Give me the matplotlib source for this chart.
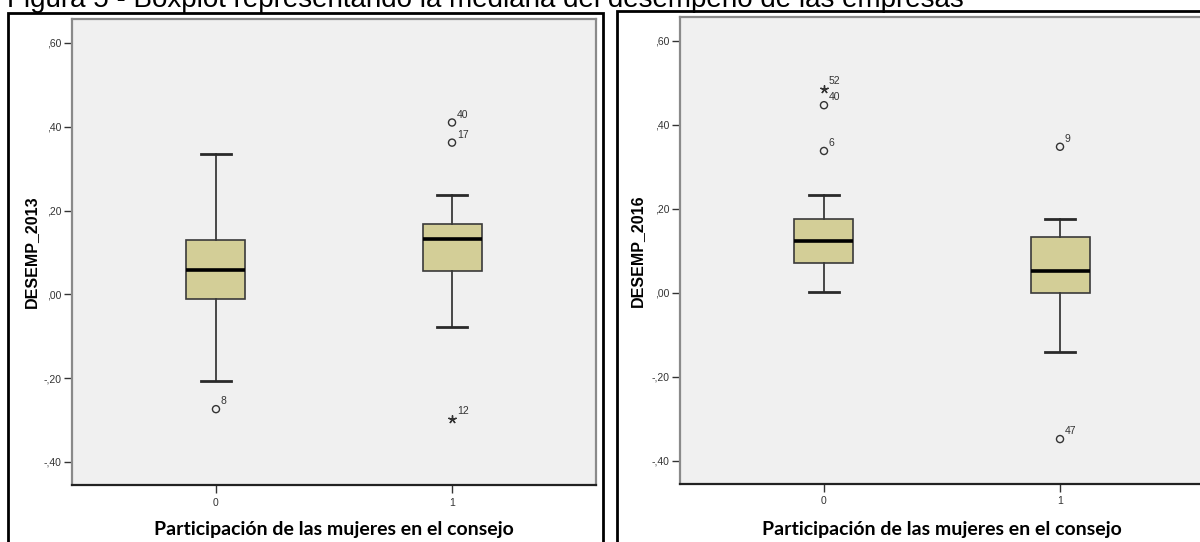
import matplotlib
matplotlib.use("Agg")
import matplotlib.pyplot as plt
from matplotlib.patches import Rectangle

# ---------------- data ----------------
categories = ["0", "1"]
positions = [0, 1]

# DESEMP_2013
q1_2013 = [-0.012, 0.055]
med_2013 = [0.057, 0.131]
q3_2013 = [0.129, 0.169]
whislo_2013 = [-0.207, -0.079]
whishi_2013 = [0.336, 0.238]
out_x_2013 = [0, 1, 1]
out_y_2013 = [-0.274, 0.410, 0.362]
out_lab_2013 = ["8", "40", "17"]
ext_x_2013 = [1]
ext_y_2013 = [-0.298]
ext_lab_2013 = ["12"]

# DESEMP_2016
q1_2016 = [0.071, 0.000]
med_2016 = [0.124, 0.052]
q3_2016 = [0.176, 0.133]
whislo_2016 = [0.002, -0.140]
whishi_2016 = [0.233, 0.176]
out_x_2016 = [0, 0, 1, 1]
out_y_2016 = [0.447, 0.338, 0.348, -0.348]
out_lab_2016 = ["40", "6", "9", "47"]
ext_x_2016 = [0]
ext_y_2016 = [0.486]
ext_lab_2016 = ["52"]

yticks = [-0.4, -0.2, 0.0, 0.2, 0.4, 0.6]
ytick_labels = ["-,40", "-,20", ",00", ",20", ",40", ",60"]

title = "Figura 5 - Boxplot representando la mediana del desempeño de las empresas"
xlabel = "Participación de las mujeres en el consejo"
ylabels = ["DESEMP_2013", "DESEMP_2016"]

# ---------------- figure ----------------
W, H = 1200, 542
fig = plt.figure(figsize=(W / 100, H / 100), dpi=100)
fig.patch.set_facecolor("white")

def fx(px):
    return px / W

def fy(py):
    return 1 - py / H

BOX_FILL = "#d3ce97"
BG = "#f0f0f0"

def draw_panel(rect, q1, med, q3, wlo, whi, ox, oy, olab, ex, ey, elab, ylabel, ylab_x):
    ax = fig.add_axes(rect)
    ax.set_facecolor(BG)
    stats = []
    for i in range(len(categories)):
        stats.append(dict(q1=q1[i], med=med[i], q3=q3[i], whislo=wlo[i], whishi=whi[i], fliers=[]))
    ax.bxp(stats, positions=positions, widths=0.25, patch_artist=True, showfliers=False,
           boxprops=dict(facecolor=BOX_FILL, edgecolor="#3a3a3a", linewidth=1.2),
           medianprops=dict(color="black", linewidth=2.6, solid_capstyle="butt"),
           whiskerprops=dict(color="#3a3a3a", linewidth=1.3),
           capprops=dict(color="#2a2a2a", linewidth=2.0),
           capwidths=0.125)
    ax.scatter(ox, oy, s=26, facecolors="none", edgecolors="#333333", linewidths=1.0, zorder=5)
    ax.scatter(ex, ey, s=30, marker=(5, 2, 0), color="#333333", linewidths=1.0, zorder=5)
    for x, y, t in zip(ox, oy, olab):
        ax.annotate(t, (x, y), xytext=(3.5, 3.5), textcoords="offset points",
                    fontsize=7.5, color="#333333", family="Liberation Sans")
    for x, y, t in zip(ex, ey, elab):
        ax.annotate(t, (x, y), xytext=(3.5, 3.5), textcoords="offset points",
                    fontsize=7.5, color="#333333", family="Liberation Sans")
    ax.set_xlim(-0.61, 1.61)
    ax.set_ylim(-0.455, 0.657)
    ax.set_xticks(positions)
    ax.set_xticklabels(categories, fontsize=7.5, family="Liberation Sans", color="#333333")
    ax.set_yticks(yticks)
    ax.set_yticklabels(ytick_labels, fontsize=7.5, family="Liberation Sans", color="#333333")
    ax.tick_params(axis="both", length=6, width=1.0, color="#333333", pad=1.5)
    ax.tick_params(axis="x", pad=3)
    for side in ["left", "top", "right"]:
        ax.spines[side].set_color("#8a8a8a")
        ax.spines[side].set_linewidth(1.6)
    ax.spines["bottom"].set_color("#222222")
    ax.spines["bottom"].set_linewidth(1.6)
    fig.text(ylab_x, rect[1] + rect[3] / 2, ylabel, rotation=90, ha="center", va="center",
             fontsize=11.5, fontweight="bold", family="Liberation Sans")
    fig.text(rect[0] + rect[2] / 2, fy(529), xlabel, ha="center", va="center",
             fontsize=14, fontweight="bold", family="Lato")
    return ax

# outer panel borders
fig.patches.append(Rectangle((fx(8), fy(560)), fx(603) - fx(8), fy(13) - fy(560),
                             transform=fig.transFigure, fill=False, edgecolor="black",
                             linewidth=2.0, clip_on=False))
fig.patches.append(Rectangle((fx(617), fy(560)), fx(1213) - fx(617), fy(11) - fy(560),
                             transform=fig.transFigure, fill=False, edgecolor="black",
                             linewidth=2.0, clip_on=False))

draw_panel([fx(72), fy(485), fx(524), 466 / H], q1_2013, med_2013, q3_2013, whislo_2013,
           whishi_2013, out_x_2013, out_y_2013, out_lab_2013, ext_x_2013, ext_y_2013,
           ext_lab_2013, ylabels[0], fx(31))
draw_panel([fx(680), fy(484), fx(524), 467 / H], q1_2016, med_2016, q3_2016, whislo_2016,
           whishi_2016, out_x_2016, out_y_2016, out_lab_2016, ext_x_2016, ext_y_2016,
           ext_lab_2016, ylabels[1], fx(637))

fig.text(fx(7), fy(7), title, ha="left", va="baseline", fontsize=20, family="Liberation Sans")

fig.savefig("out.png", dpi=100)
